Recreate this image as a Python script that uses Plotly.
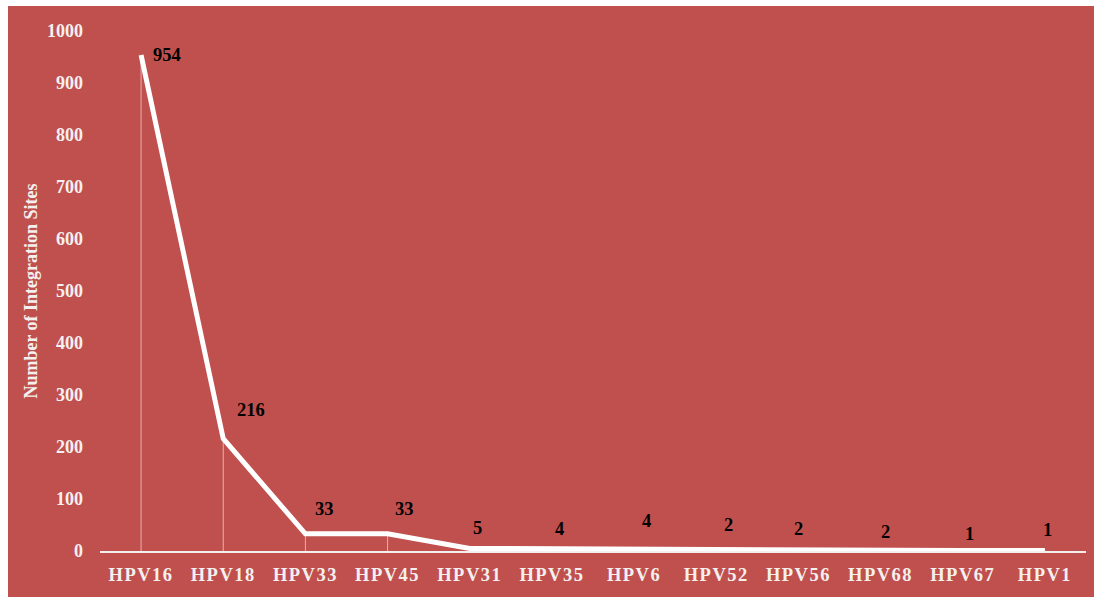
import plotly.graph_objects as go

# HPV types and number of integration sites detected for each
hpv_types = ["HPV16", "HPV18", "HPV33", "HPV45", "HPV31", "HPV35",
             "HPV6", "HPV52", "HPV56", "HPV68", "HPV67", "HPV1"]
site_counts = [954, 216, 33, 33, 5, 4, 4, 2, 2, 2, 1, 1]

# y-axis ticks
y_ticks = [0, 100, 200, 300, 400, 500, 600, 700, 800, 900, 1000]

# per-label pixel offsets (right, up) of the value labels
label_dx = [26, 28, 19, 17, 8, 8, 12, 12, 0, 5, 7, 3]
label_dy = [0, 29, 25, 25, 20, 20, 28, 25, 21, 18, 16, 20]

RED = "#C0504D"
WHITE = "#F4F0F0"
SERIF = "Liberation Serif, Times New Roman, serif"

fig = go.Figure()

# thin drop lines from each point down to the axis
drop_x, drop_y = [], []
for cat, val in zip(hpv_types, site_counts):
    drop_x += [cat, cat, None]
    drop_y += [0, val, None]
fig.add_trace(go.Scatter(
    x=drop_x, y=drop_y, mode="lines",
    line=dict(color="rgba(255,255,255,0.55)", width=1),
    hoverinfo="skip", showlegend=False,
))

# main series
fig.add_trace(go.Scatter(
    x=hpv_types, y=site_counts, mode="lines",
    line=dict(color="white", width=5),
    showlegend=False,
))

annotations = []
for cat, val, dx, dy in zip(hpv_types, site_counts, label_dx, label_dy):
    annotations.append(dict(
        x=cat, y=val, xref="x", yref="y", text=str(val),
        showarrow=False, xanchor="center", yanchor="middle",
        xshift=dx, yshift=dy,
        font=dict(family=SERIF, size=18.5, color="black", weight="bold"),
    ))

# white page edge along the top and left of the red chart area
edge = dict(type="rect", xref="paper", yref="paper", layer="below",
            fillcolor="white", line=dict(width=0))
shapes = [
    dict(edge, x0=-0.2, x1=1.1, y0=1.0481, y1=1.2),
    dict(edge, x0=-0.2, x1=-0.0933, y0=-0.2, y1=1.2),
]

fig.update_layout(
    width=1094, height=597,
    margin=dict(l=100, r=8, t=31, b=46),
    paper_bgcolor=RED,
    plot_bgcolor=RED,
    showlegend=False,
    annotations=annotations,
    shapes=shapes,
    xaxis=dict(
        type="category", range=[-0.5, 11.5],
        showgrid=False, zeroline=False,
        showline=True, linecolor=WHITE, linewidth=2,
        ticks="", ticklabelstandoff=6,
        tickfont=dict(family=SERIF, size=18.5, color=WHITE, weight="bold"),
    ),
    yaxis=dict(
        range=[0, 1000], tickvals=y_ticks,
        showgrid=False, zeroline=False, showline=False,
        ticks="", ticklabelstandoff=16,
        tickfont=dict(family=SERIF, size=18, color=WHITE, weight="bold"),
        title=dict(
            text="Number of Integration Sites", standoff=4,
            font=dict(family=SERIF, size=18, color=WHITE, weight="bold"),
        ),
    ),
)

# page background continues the chart colour; category labels slightly spaced
page_js = (
    "document.documentElement.style.background='" + RED + "';"
    "document.body.style.background='" + RED + "';"
    "document.body.style.margin='0';"
    "var gd = document.querySelector('.plotly-graph-div');"
    "function spaceTicks(){gd.querySelectorAll('.xtick text')"
    ".forEach(function(t){t.style.letterSpacing='1.5px';});}"
    "spaceTicks(); gd.on('plotly_afterplot', spaceTicks);"
)

fig.write_html("out.html", post_script=page_js)
